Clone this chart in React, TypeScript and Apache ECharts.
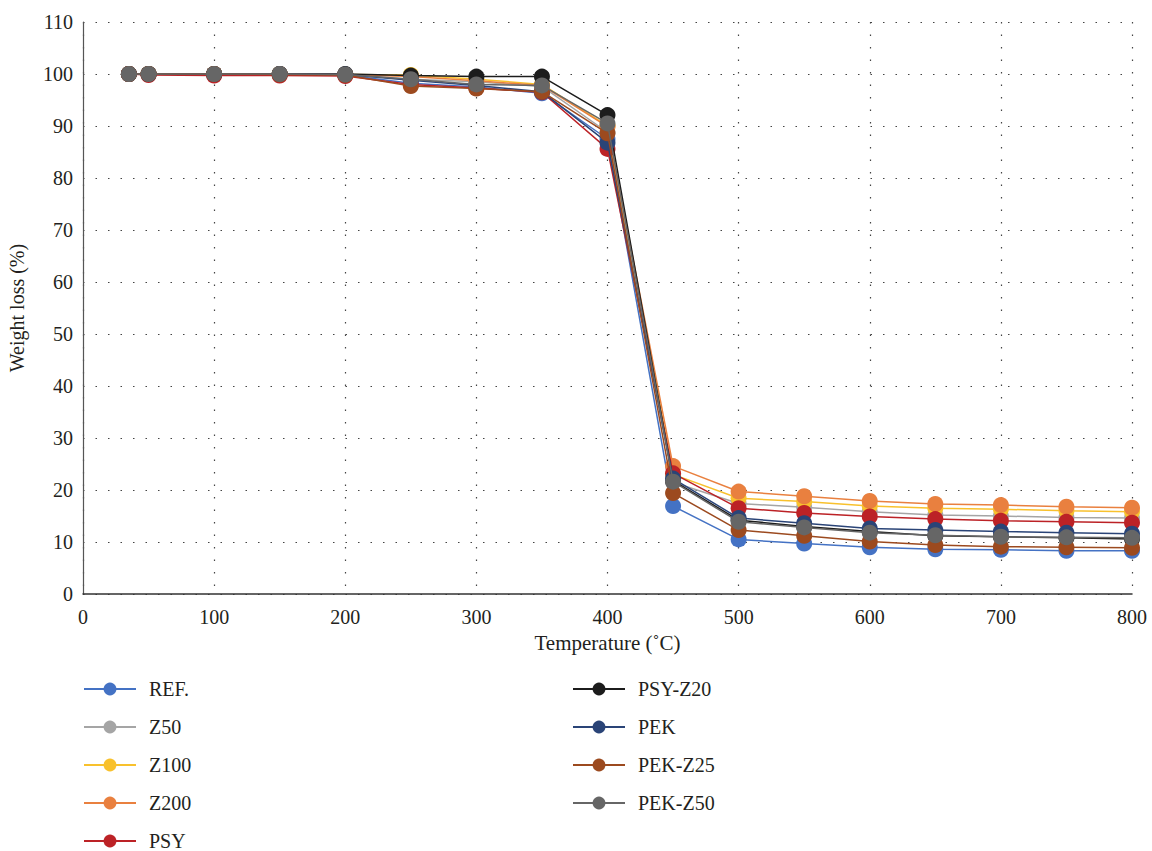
import React, { useEffect, useRef } from "react";
import * as echarts from "echarts";

const temps = [35, 50, 100, 150, 200, 250, 300, 350, 400, 450, 500, 550, 600, 650, 700, 750, 800];

const seriesNames = ["REF.", "Z50", "Z100", "Z200", "PSY", "PSY-Z20", "PEK", "PEK-Z25", "PEK-Z50"];
const seriesColors = ["#4472C4", "#A5A5A5", "#F8C12D", "#E9803F", "#BC2226", "#1C1C1C", "#2A4477", "#9C4A1F", "#666666"];

const refVals = [100, 100, 99.9, 99.9, 99.8, 98.2, 97.5, 96.3, 87.5, 16.9, 10.5, 9.7, 9.0, 8.6, 8.5, 8.3, 8.3];
const z50Vals = [100, 100, 100, 100, 99.9, 99.0, 98.5, 97.6, 88.8, 21.5, 17.4, 16.7, 15.8, 15.2, 15.0, 14.7, 14.6];
const z100Vals = [100, 100, 100, 100, 99.9, 99.8, 99.0, 98.0, 90.0, 23.0, 18.4, 17.8, 16.9, 16.5, 16.3, 16.0, 15.8];
const z200Vals = [100, 100, 100, 100, 99.9, 99.5, 98.7, 97.8, 89.9, 24.6, 19.7, 18.8, 17.9, 17.3, 17.1, 16.8, 16.6];
const psyVals = [100, 99.8, 99.7, 99.7, 99.6, 98.0, 97.3, 96.5, 85.6, 23.2, 16.5, 15.6, 14.9, 14.4, 14.1, 13.9, 13.7];
const psyZ20Vals = [100, 100, 100, 100, 100, 99.7, 99.5, 99.5, 92.1, 21.8, 14.2, 13.0, 12.0, 11.2, 11.0, 10.8, 10.6];
const pekVals = [100, 100, 100, 100, 99.9, 98.8, 97.8, 96.6, 86.8, 22.2, 14.6, 13.6, 12.6, 12.3, 12.0, 11.8, 11.6];
const pekZ25Vals = [100, 100, 100, 99.9, 99.8, 97.7, 97.2, 96.6, 88.6, 19.4, 12.3, 11.2, 10.1, 9.4, 9.1, 9.0, 8.9];
const pekZ50Vals = [100, 100, 100, 100, 99.9, 99.0, 98.0, 97.8, 90.5, 21.6, 13.9, 12.8, 11.8, 11.3, 11.0, 10.9, 10.8];

const allVals = [refVals, z50Vals, z100Vals, z200Vals, psyVals, psyZ20Vals, pekVals, pekZ25Vals, pekZ50Vals];

const FONT = "'Liberation Serif', 'DejaVu Serif', serif";
const TEXT = "#231F20";

export default function App() {
  const ref = useRef<HTMLDivElement>(null);
  useEffect(() => {
    const chart = echarts.init(ref.current!, undefined, { renderer: "svg" });
    const series = seriesNames.map((name, i) => ({
      name,
      type: "line",
      data: temps.map((t, j) => [t, allVals[i][j]]),
      symbol: "circle",
      symbolSize: 16,
      showSymbol: true,
      itemStyle: { color: seriesColors[i] },
      lineStyle: { color: seriesColors[i], width: 1.5 },
      z: 2 + i,
    }));
    const legendCommon = {
      orient: "vertical",
      itemWidth: 52,
      itemHeight: 16,
      itemGap: 18,
      padding: 0,
      height: 200,
      textStyle: { fontFamily: FONT, fontSize: 20, color: TEXT, padding: [0, 0, 0, 8] },
    };
    chart.setOption({
      animation: false,
      backgroundColor: "#ffffff",
      grid: { left: 83, right: 20, top: 22, bottom: 257, outerBoundsMode: "none", containLabel: false },
      xAxis: {
        type: "value",
        min: 0,
        max: 800,
        interval: 100,
        name: "Temperature (˚C)",
        nameLocation: "middle",
        nameGap: 38,
        nameTextStyle: { fontFamily: FONT, fontSize: 21, color: TEXT },
        axisLine: { show: true, lineStyle: { color: "#333", width: 1.5 } },
        axisTick: { show: false },
        axisLabel: { fontFamily: FONT, fontSize: 20, color: TEXT, margin: 13 },
        splitLine: { show: true, lineStyle: { type: [1.5, 11], color: "#444", width: 1.2 } },
      },
      yAxis: {
        type: "value",
        min: 0,
        max: 110,
        interval: 10,
        name: "Weight loss (%)",
        nameLocation: "middle",
        nameGap: 56,
        nameRotate: 90,
        nameTextStyle: { fontFamily: FONT, fontSize: 20, color: TEXT },
        axisLine: { show: true, lineStyle: { color: "#555", width: 1.2 } },
        axisTick: { show: false },
        axisLabel: { fontFamily: FONT, fontSize: 20, color: TEXT, margin: 10 },
        splitLine: { show: true, lineStyle: { type: [1.5, 11], color: "#444", width: 1.2 } },
      },
      legend: [
        { ...legendCommon, left: 83, top: 679, data: seriesNames.slice(0, 5) },
        { ...legendCommon, left: 572, top: 679, data: seriesNames.slice(5) },
      ],
      series,
    });
    return () => chart.dispose();
  }, []);
  return <div ref={ref} style={{ width: 1152, height: 851, position: "absolute", left: 0, top: 0 }} />;
}
